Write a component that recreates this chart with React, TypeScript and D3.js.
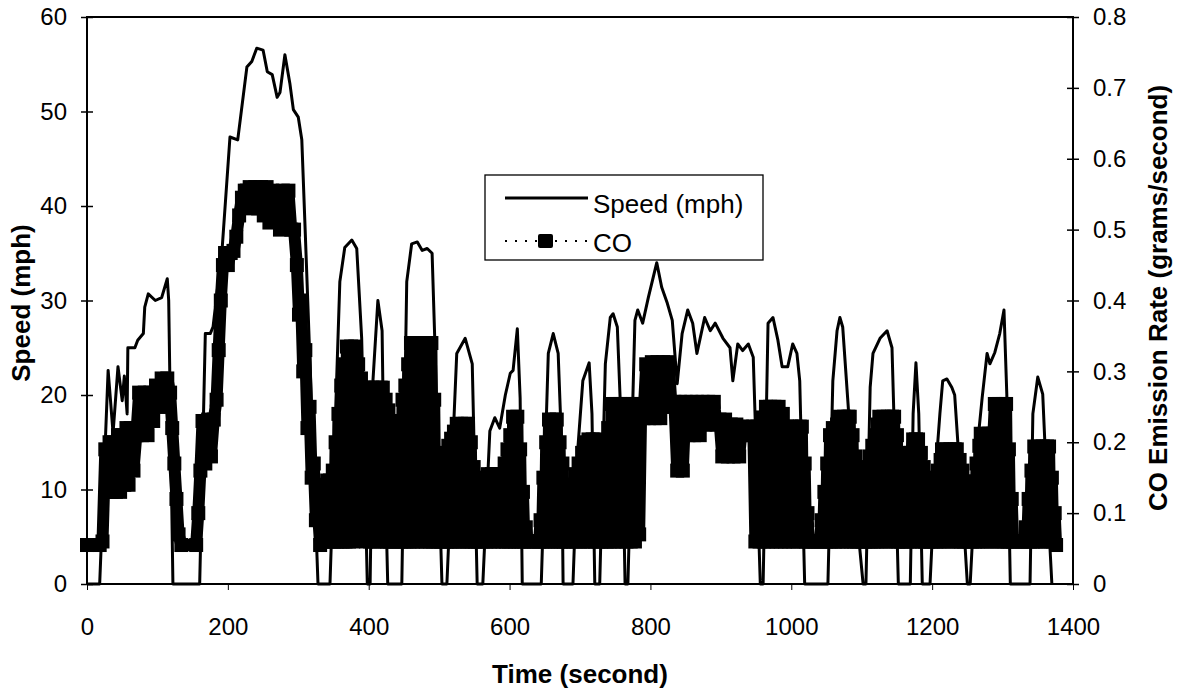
import React, { useEffect, useRef } from 'react';
import * as d3 from 'd3';

// time (s), speed (mph)
const speedSeries: [number, number][] = [
  [0, 0], [18, 0], [30, 22.6], [37, 16], [44, 23], [50, 19.4], [53, 22], [57, 18], [58, 25], [68, 25], [72, 25.8],
  [80, 26.5], [82, 29.3], [87, 30.7], [97, 30], [106, 30.3], [114, 32.3], [116, 30], [122, 0], [160, 0], [168, 26.5],
  [175, 26.5], [179, 27.2], [192, 35.6], [203, 47.3], [214, 47], [227, 54.7], [234, 55.3], [241, 56.7], [250, 56.5],
  [256, 54.2], [263, 53.9], [270, 51.5], [274, 52], [281, 56], [288, 53], [293, 50.2], [300, 49.4], [305, 47], [310, 37],
  [328, 0], [345, 0], [359, 32], [366, 35.6], [376, 36.4], [383, 35.5], [390, 26], [398, 0], [402, 0], [406, 21.5],
  [413, 30], [419, 26.8], [420, 21.5], [427, 0], [447, 0], [454, 32], [461, 36], [469, 36.2], [476, 35.3], [483, 35.5],
  [490, 35], [494, 25.4], [504, 0], [511, 0], [525, 24.4], [537, 26], [547, 23.3], [554, 0], [562, 0], [572, 16.2],
  [579, 17.6], [586, 16.5], [594, 20], [601, 22.3], [605, 22.6], [611, 27], [615, 19.7], [618, 0], [645, 0], [655, 24.4],
  [662, 26.5], [669, 24.4], [674, 14.4], [676, 0], [690, 0], [697, 14.4], [704, 21.5], [713, 23.4], [717, 18], [721, 0],
  [728, 0], [736, 23.3], [743, 28.2], [747, 28.6], [753, 27.2], [761, 12], [764, 0], [768, 0], [778, 27.9], [782, 29],
  [789, 27.6], [797, 30.3], [809, 34], [816, 31.4], [824, 29.7], [831, 27.9], [838, 21.2], [845, 26.5], [853, 29],
  [860, 27.6], [866, 24.4], [877, 28.2], [885, 26.8], [892, 27.6], [903, 26], [913, 25], [917, 21.5], [924, 25.4],
  [931, 24.7], [939, 25.4], [946, 24], [951, 12], [956, 0], [960, 0], [967, 27.6], [974, 28.2], [981, 25.8], [987, 23],
  [995, 23], [1002, 25.4], [1008, 24.4], [1012, 21.5], [1019, 0], [1052, 0], [1059, 21.5], [1065, 26.8], [1069, 28.2],
  [1073, 27.2], [1080, 19.7], [1088, 11], [1102, 0], [1106, 0], [1112, 20.8], [1116, 24.4], [1126, 26], [1136, 26.8],
  [1143, 25], [1147, 14.4], [1152, 0], [1169, 0], [1173, 18], [1177, 23.4], [1181, 18], [1186, 0], [1197, 0], [1204, 11],
  [1211, 18], [1215, 21.5], [1221, 21.7], [1228, 20.8], [1232, 20], [1237, 14.4], [1244, 7.4], [1250, 0], [1254, 0],
  [1264, 14.4], [1271, 19.7], [1278, 24.4], [1282, 23.3], [1289, 24.5], [1296, 26.5], [1302, 29], [1306, 20.1],
  [1311, 0], [1339, 0], [1343, 18], [1350, 21.9], [1357, 20.1], [1363, 10], [1370, 0],
];

// time (s), CO emission rate (g/s)
const coSeries: [number, number][] = [
  [0, 0.055], [18, 0.055], [22, 0.06], [26, 0.19], [29, 0.13], [32, 0.2], [35, 0.13], [38, 0.2], [41, 0.13], [44, 0.21],
  [47, 0.13], [50, 0.21], [53, 0.14], [56, 0.22], [59, 0.14], [62, 0.22], [66, 0.16], [70, 0.21], [74, 0.27], [78, 0.21],
  [82, 0.27], [86, 0.21], [90, 0.27], [94, 0.23], [98, 0.28], [102, 0.25], [106, 0.29], [110, 0.25], [114, 0.29],
  [118, 0.27], [121, 0.22], [124, 0.17], [127, 0.12], [130, 0.07], [134, 0.055],
  [155, 0.055], [158, 0.1], [161, 0.16], [164, 0.23], [168, 0.17], [172, 0.232], [176, 0.18], [180, 0.232], [184, 0.26],
  [187, 0.33], [190, 0.4], [193, 0.45], [196, 0.467], [200, 0.45], [204, 0.467], [208, 0.47], [212, 0.49], [216, 0.52],
  [220, 0.545], [224, 0.555], [227, 0.555], [231, 0.56], [235, 0.53], [239, 0.56], [243, 0.53], [247, 0.56], [251, 0.52],
  [255, 0.56], [259, 0.51], [263, 0.555], [267, 0.52], [270, 0.535], [274, 0.5], [278, 0.555], [282, 0.51], [286, 0.555],
  [290, 0.5], [294, 0.5], [298, 0.45], [301, 0.38], [304, 0.4], [307, 0.3], [310, 0.33], [313, 0.22], [316, 0.25],
  [319, 0.15], [322, 0.17], [325, 0.09], [328, 0.1], [331, 0.055],
  [333, 0.12], [335, 0.06], [337, 0.14], [339, 0.06], [341, 0.146], [343, 0.06], [345, 0.146], [347, 0.06], [349, 0.16],
  [351, 0.06], [353, 0.2], [355, 0.06], [357, 0.24], [359, 0.06], [361, 0.28], [363, 0.06], [365, 0.31], [367, 0.06],
  [369, 0.335], [372, 0.06], [375, 0.335], [378, 0.06], [381, 0.335], [383, 0.07], [385, 0.31], [387, 0.07], [389, 0.29],
  [391, 0.07], [393, 0.277], [396, 0.06], [399, 0.277], [402, 0.06], [405, 0.277], [408, 0.06], [411, 0.277], [414, 0.06],
  [417, 0.277], [420, 0.277], [422, 0.06], [424, 0.26], [426, 0.06], [428, 0.245], [430, 0.06], [432, 0.23], [434, 0.06],
  [436, 0.215], [438, 0.06], [440, 0.205], [442, 0.06], [444, 0.23], [446, 0.06], [448, 0.26], [450, 0.06], [452, 0.28],
  [454, 0.06], [456, 0.31], [458, 0.06], [460, 0.34], [463, 0.06], [466, 0.34], [469, 0.06], [472, 0.34], [475, 0.06],
  [478, 0.34], [481, 0.06], [484, 0.34], [487, 0.06], [489, 0.34], [491, 0.06], [493, 0.26], [495, 0.06], [497, 0.175],
  [499, 0.06], [501, 0.17], [503, 0.06], [505, 0.175], [507, 0.06], [509, 0.185], [511, 0.06], [513, 0.195], [515, 0.06],
  [517, 0.205], [519, 0.06], [521, 0.215], [523, 0.06], [525, 0.226], [528, 0.06], [531, 0.226], [534, 0.06],
  [537, 0.226], [539, 0.06], [541, 0.226], [543, 0.06], [545, 0.2], [547, 0.06], [549, 0.165], [551, 0.06], [553, 0.13],
  [555, 0.06], [557, 0.13], [559, 0.06], [561, 0.14], [563, 0.06], [565, 0.15], [567, 0.06], [569, 0.155], [572, 0.06],
  [575, 0.155], [578, 0.06], [581, 0.155], [584, 0.06], [587, 0.155], [590, 0.06], [593, 0.17], [595, 0.06], [597, 0.19],
  [599, 0.06], [601, 0.21], [603, 0.06], [605, 0.236], [608, 0.06], [611, 0.236], [613, 0.06], [615, 0.19], [617, 0.06],
  [619, 0.13], [621, 0.06], [623, 0.08], [626, 0.06], [630, 0.06], [634, 0.06], [638, 0.06], [642, 0.06], [644, 0.09],
  [646, 0.06], [648, 0.15], [650, 0.06], [652, 0.2], [654, 0.06],
  [656, 0.232], [659, 0.06], [662, 0.232], [665, 0.06], [667, 0.232], [669, 0.06], [671, 0.2], [673, 0.06], [675, 0.17],
  [677, 0.06], [679, 0.14], [681, 0.06], [683, 0.125], [685, 0.06], [688, 0.14], [690, 0.06], [693, 0.155], [695, 0.06],
  [698, 0.17], [700, 0.06], [703, 0.185], [705, 0.06], [708, 0.2], [710, 0.06], [712, 0.204], [715, 0.06], [718, 0.204],
  [721, 0.06], [724, 0.204], [726, 0.06], [728, 0.19], [730, 0.06], [732, 0.18], [734, 0.06], [736, 0.2], [738, 0.06],
  [740, 0.22], [742, 0.06], [745, 0.254], [748, 0.06], [751, 0.254], [754, 0.06], [757, 0.254], [760, 0.06], [763, 0.254],
  [766, 0.06], [769, 0.254], [772, 0.06], [775, 0.254], [778, 0.06], [781, 0.254], [784, 0.07], [787, 0.254],
  [790, 0.234], [794, 0.31], [798, 0.234], [802, 0.313], [806, 0.234], [810, 0.313], [814, 0.234], [818, 0.313],
  [822, 0.25], [826, 0.313], [830, 0.25], [834, 0.257], [838, 0.16], [842, 0.257], [846, 0.16], [850, 0.257],
  [854, 0.21], [858, 0.257], [862, 0.21], [866, 0.257], [870, 0.21], [874, 0.257], [878, 0.225], [882, 0.257],
  [886, 0.225], [890, 0.257], [894, 0.225], [898, 0.232], [902, 0.18], [906, 0.232], [910, 0.18], [914, 0.225],
  [918, 0.18], [922, 0.225], [926, 0.18], [930, 0.222], [934, 0.21], [938, 0.222], [942, 0.21], [946, 0.222],
  [949, 0.06], [952, 0.222], [955, 0.06], [958, 0.235], [961, 0.06], [964, 0.25], [967, 0.06], [970, 0.25], [973, 0.06],
  [976, 0.25], [979, 0.06], [982, 0.25], [985, 0.06], [988, 0.24], [991, 0.06], [994, 0.222], [997, 0.06], [1000, 0.222],
  [1003, 0.06], [1006, 0.222], [1009, 0.06], [1012, 0.222], [1015, 0.222], [1017, 0.06], [1019, 0.17], [1021, 0.06],
  [1023, 0.1], [1025, 0.06], [1029, 0.06], [1033, 0.06], [1037, 0.06], [1041, 0.06], [1043, 0.09], [1045, 0.06],
  [1047, 0.13], [1049, 0.06], [1051, 0.17], [1053, 0.06], [1055, 0.21], [1057, 0.06], [1059, 0.22], [1062, 0.06],
  [1065, 0.225], [1067, 0.06], [1069, 0.236], [1072, 0.06], [1075, 0.236], [1078, 0.06], [1081, 0.236], [1083, 0.236],
  [1085, 0.06], [1087, 0.21], [1089, 0.06], [1091, 0.18], [1093, 0.06], [1095, 0.155], [1097, 0.06], [1099, 0.135],
  [1101, 0.06], [1103, 0.15], [1105, 0.06], [1107, 0.165], [1109, 0.06], [1111, 0.18], [1113, 0.06], [1115, 0.195],
  [1117, 0.06], [1119, 0.21], [1121, 0.06], [1123, 0.225], [1125, 0.236], [1128, 0.06], [1131, 0.236], [1134, 0.06],
  [1137, 0.236], [1140, 0.06], [1143, 0.236], [1146, 0.236], [1148, 0.06], [1150, 0.21], [1152, 0.06], [1154, 0.185],
  [1156, 0.06], [1158, 0.16], [1160, 0.06], [1162, 0.135], [1164, 0.06], [1166, 0.16], [1168, 0.06], [1170, 0.185],
  [1173, 0.204], [1175, 0.06], [1177, 0.204], [1180, 0.204], [1182, 0.06], [1184, 0.185], [1186, 0.06], [1188, 0.165],
  [1190, 0.06], [1192, 0.15], [1194, 0.06], [1196, 0.14], [1198, 0.06], [1200, 0.13], [1202, 0.06], [1204, 0.145],
  [1206, 0.06], [1208, 0.16], [1210, 0.06], [1212, 0.175], [1214, 0.19], [1217, 0.06], [1220, 0.19], [1223, 0.06],
  [1226, 0.19], [1229, 0.06], [1232, 0.19], [1235, 0.19], [1237, 0.06], [1239, 0.175], [1241, 0.06], [1243, 0.16],
  [1245, 0.06], [1247, 0.145], [1249, 0.06], [1251, 0.13], [1253, 0.06], [1255, 0.11], [1257, 0.06], [1259, 0.14],
  [1261, 0.06], [1263, 0.17], [1265, 0.06], [1267, 0.195], [1269, 0.212], [1272, 0.06], [1275, 0.212], [1278, 0.06],
  [1281, 0.212], [1284, 0.06], [1287, 0.212], [1289, 0.254], [1292, 0.06], [1295, 0.254], [1298, 0.06], [1301, 0.254],
  [1303, 0.06], [1305, 0.254], [1307, 0.06], [1309, 0.19], [1311, 0.06], [1313, 0.12], [1315, 0.06], [1319, 0.06],
  [1323, 0.06], [1327, 0.06], [1331, 0.06], [1333, 0.08], [1335, 0.06], [1337, 0.12], [1339, 0.06], [1341, 0.16],
  [1343, 0.06], [1345, 0.194], [1348, 0.06], [1351, 0.194], [1354, 0.06], [1357, 0.194], [1360, 0.06], [1363, 0.194],
  [1366, 0.194], [1368, 0.06], [1370, 0.15], [1372, 0.06], [1374, 0.1], [1376, 0.055],
];

const timeTicks = [0, 200, 400, 600, 800, 1000, 1200, 1400];
const speedTicks = [0, 10, 20, 30, 40, 50, 60];
const coTicks = [0, 0.1, 0.2, 0.3, 0.4, 0.5, 0.6, 0.7, 0.8];

const FONT = '"Liberation Sans", Arial, sans-serif';

export default function App() {
  const svgRef = useRef<SVGSVGElement>(null);

  useEffect(() => {
    if (!svgRef.current) return;
    document.body.style.margin = '0';

    const svg = d3.select(svgRef.current);
    svg.selectAll('*').remove();

    const left = 87, right = 1073, top = 17, bottom = 584;

    const x = d3.scaleLinear().domain([0, 1400]).range([left, right]);
    const yS = d3.scaleLinear().domain([0, 60]).range([bottom, top]);
    const yC = d3.scaleLinear().domain([0, 0.8]).range([bottom, top]);

    svg.append('rect').attr('width', 1180).attr('height', 692).attr('fill', '#fff');

    // CO: square markers joined by a heavy line, which makes the dense band
    const coLine = d3.line<[number, number]>().x(d => x(d[0])).y(d => yC(d[1]));
    svg.append('path')
      .datum(coSeries)
      .attr('d', coLine)
      .attr('fill', 'none')
      .attr('stroke', '#000')
      .attr('stroke-width', 12)
      .attr('stroke-linejoin', 'bevel');
    const m = 14;
    svg.append('g').selectAll('rect')
      .data(coSeries)
      .enter()
      .append('rect')
      .attr('x', d => x(d[0]) - m / 2)
      .attr('y', d => yC(d[1]) - m / 2)
      .attr('width', m)
      .attr('height', m)
      .attr('fill', '#000');

    // speed
    const spLine = d3.line<[number, number]>().x(d => x(d[0])).y(d => yS(d[1]));
    svg.append('path')
      .datum(speedSeries)
      .attr('d', spLine)
      .attr('fill', 'none')
      .attr('stroke', '#000')
      .attr('stroke-width', 3)
      .attr('stroke-linejoin', 'round');

    // frame
    svg.append('rect')
      .attr('x', left).attr('y', top)
      .attr('width', right - left).attr('height', bottom - top)
      .attr('fill', 'none').attr('stroke', '#000').attr('stroke-width', 2);

    const styleAxis = (g: any) => {
      g.select('.domain').remove();
      g.selectAll('text').attr('font-family', FONT).attr('font-size', 24).attr('fill', '#000');
      g.selectAll('.tick line').attr('stroke', '#000').attr('stroke-width', 1.5);
    };

    const gL = svg.append('g').attr('transform', `translate(${left},0)`)
      .call(d3.axisLeft(yS).tickValues(speedTicks).tickSize(6).tickPadding(14));
    styleAxis(gL);
    gL.selectAll('.tick line').attr('x2', -6).attr('x1', 6);

    const gR = svg.append('g').attr('transform', `translate(${right},0)`)
      .call(d3.axisRight(yC).tickValues(coTicks).tickSize(6).tickPadding(14)
        .tickFormat(d => (d === 0 ? '0' : d3.format('.1f')(d as number))));
    styleAxis(gR);
    gR.selectAll('.tick line').attr('x1', -6).attr('x2', 6);

    const gB = svg.append('g').attr('transform', `translate(0,${bottom})`)
      .call(d3.axisBottom(x).tickValues(timeTicks).tickSize(6).tickPadding(28).tickFormat(d3.format('d')));
    styleAxis(gB);
    gB.selectAll('.tick line').attr('stroke-width', 1);

    // axis titles
    svg.append('text')
      .attr('x', 580).attr('y', 683)
      .attr('text-anchor', 'middle')
      .attr('font-family', FONT).attr('font-weight', 'bold').attr('font-size', 26)
      .text('Time (second)');
    svg.append('text')
      .attr('transform', 'translate(30,303) rotate(-90)')
      .attr('text-anchor', 'middle')
      .attr('font-family', FONT).attr('font-weight', 'bold').attr('font-size', 26)
      .text('Speed (mph)');
    svg.append('text')
      .attr('transform', 'translate(1167,298) rotate(-90)')
      .attr('text-anchor', 'middle')
      .attr('font-family', FONT).attr('font-weight', 'bold').attr('font-size', 26)
      .text('CO Emission Rate (grams/second)');

    // legend
    const lg = svg.append('g');
    lg.append('rect')
      .attr('x', 485).attr('y', 175).attr('width', 278).attr('height', 85)
      .attr('fill', '#fff').attr('stroke', '#000').attr('stroke-width', 1.3);
    lg.append('line')
      .attr('x1', 505).attr('x2', 588).attr('y1', 198).attr('y2', 198)
      .attr('stroke', '#000').attr('stroke-width', 3);
    lg.append('text')
      .attr('x', 593).attr('y', 213)
      .attr('font-family', FONT).attr('font-size', 26)
      .text('Speed (mph)');
    lg.append('line')
      .attr('x1', 505).attr('x2', 590).attr('y1', 241).attr('y2', 241)
      .attr('stroke', '#000').attr('stroke-width', 2)
      .attr('stroke-dasharray', '2,8');
    lg.append('rect')
      .attr('x', 538).attr('y', 234).attr('width', 15).attr('height', 14).attr('rx', 2)
      .attr('fill', '#000');
    lg.append('text')
      .attr('x', 593).attr('y', 252)
      .attr('font-family', FONT).attr('font-size', 26)
      .text('CO');
  }, []);

  return <svg ref={svgRef} width={1180} height={692} style={{ display: 'block' }} />;
}
